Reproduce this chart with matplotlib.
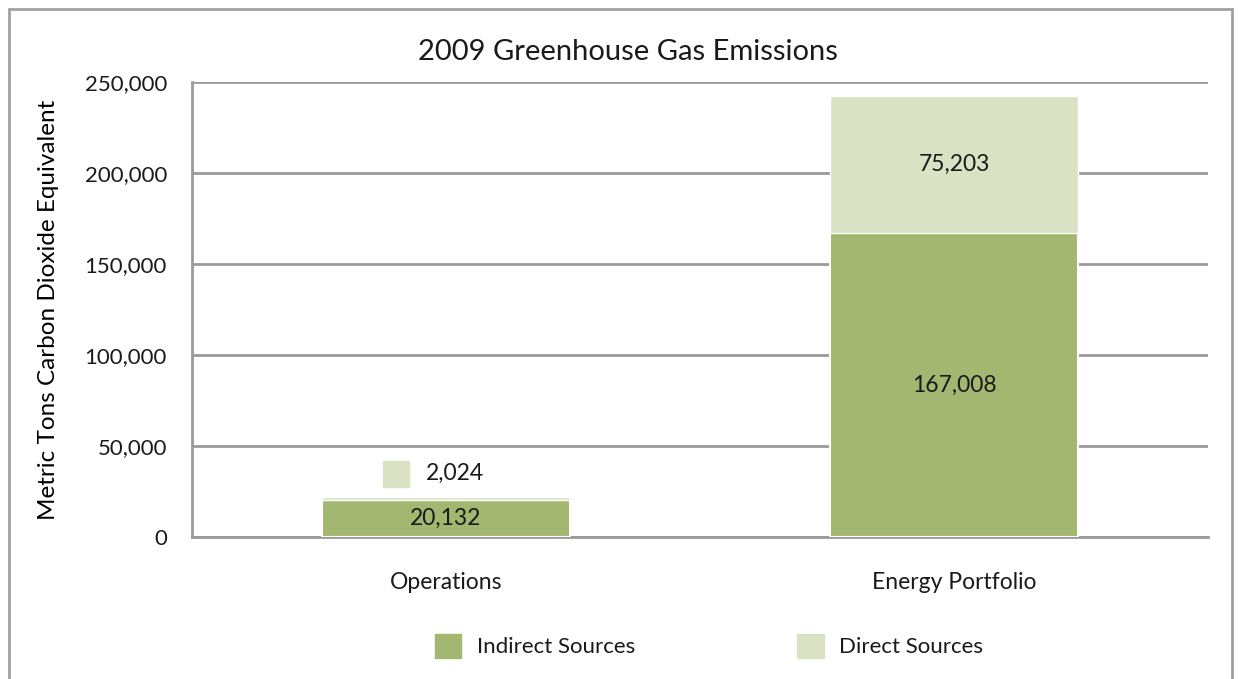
import matplotlib.pyplot as plt
import numpy
from matplotlib.patches import Rectangle
from matplotlib.transforms import offset_copy

# 2009 emissions, metric tons CO2 equivalent
categories = ['Operations', 'Energy Portfolio']
indirect_sources = [20132, 167008]
direct_sources = [2024, 75203]
y_ticks = [0, 50000, 100000, 150000, 200000, 250000]

indirect_color = '#a3b770'
direct_color = '#d9e3c4'
grid_color = '#9a9a9a'
text_color = '#1a1a1a'

plt.rcParams['font.family'] = ['Lato', 'DejaVu Sans']
plt.rcParams['text.color'] = text_color
plt.rcParams['xtick.color'] = text_color
plt.rcParams['ytick.color'] = text_color

fig = plt.figure(figsize=(12.39, 6.79), dpi=100)
ax = fig.add_axes([192 / 1239, 142 / 679, 1016 / 1239, 455 / 679])

x = numpy.arange(len(categories))
ax.bar(x, indirect_sources, width=0.49, color=indirect_color,
       edgecolor='white', linewidth=1.5, zorder=3)
ax.bar(x, direct_sources, width=0.49, bottom=indirect_sources,
       color=direct_color, edgecolor='white', linewidth=1.0, zorder=3)

# value labels
for i, (ind, dr) in enumerate(zip(indirect_sources, direct_sources)):
    ax.text(x[i], ind / 2, f'{ind:,}', ha='center', va='center',
            fontsize=16.5, zorder=4)
    if dr > 20000:
        ax.text(x[i], ind + dr / 2, f'{dr:,}', ha='center', va='center',
                fontsize=16.5, zorder=4)
    else:
        # segment too thin: label above the bar with a legend key
        text_trans = offset_copy(ax.transData, fig=fig, x=-20, y=23,
                                 units='dots')
        key_trans = offset_copy(ax.transData, fig=fig, x=-50, y=23,
                                units='dots')
        ax.text(x[i], ind + dr, f'{dr:,}', transform=text_trans,
                ha='left', va='center', fontsize=16.5, zorder=4)
        ax.plot([x[i]], [ind + dr], marker='s', markersize=19,
                color=direct_color, transform=key_trans, zorder=4,
                clip_on=False)

ax.set_xlim(-0.5, 1.5)
ax.set_ylim(0, 250000)
ax.set_yticks(y_ticks)
ax.set_yticklabels([f'{v:,}' for v in y_ticks], fontsize=16)
ax.set_xticks(x)
ax.set_xticklabels(categories, fontsize=16.5)
ax.tick_params(axis='y', length=0, pad=18)
ax.tick_params(axis='x', length=0, pad=25)
ax.yaxis.grid(True, color=grid_color, linewidth=2, zorder=0)
for side in ['top', 'right']:
    ax.spines[side].set_visible(False)
for side in ['left', 'bottom']:
    ax.spines[side].set_color(grid_color)
    ax.spines[side].set_linewidth(2)

ax.set_ylabel('Metric Tons Carbon Dioxide Equivalent', fontsize=17.5)
ax.yaxis.set_label_coords(-133 / 1016, 0.5)

fig.text(628 / 1239, 1 - 52 / 679, '2009 Greenhouse Gas Emissions',
         ha='center', va='center', fontsize=21)

# legend
fig.legend(handles=[Rectangle((0, 0), 1, 1, color=indirect_color),
                    Rectangle((0, 0), 1, 1, color=direct_color)],
           labels=['Indirect Sources', 'Direct Sources'],
           loc='center', bbox_to_anchor=(709 / 1239, 1 - 646 / 679),
           ncol=2, frameon=False, fontsize=16, handlelength=1.2,
           handleheight=1.25, handletextpad=0.7, columnspacing=7.3)

# outer frame
fig.patches.append(Rectangle((9 / 1239, -0.05), 1223 / 1239, 1.05 - 9 / 679,
                             transform=fig.transFigure, fill=False,
                             edgecolor='#a0a0a0', linewidth=2))

fig.savefig('out.png', dpi=100)
